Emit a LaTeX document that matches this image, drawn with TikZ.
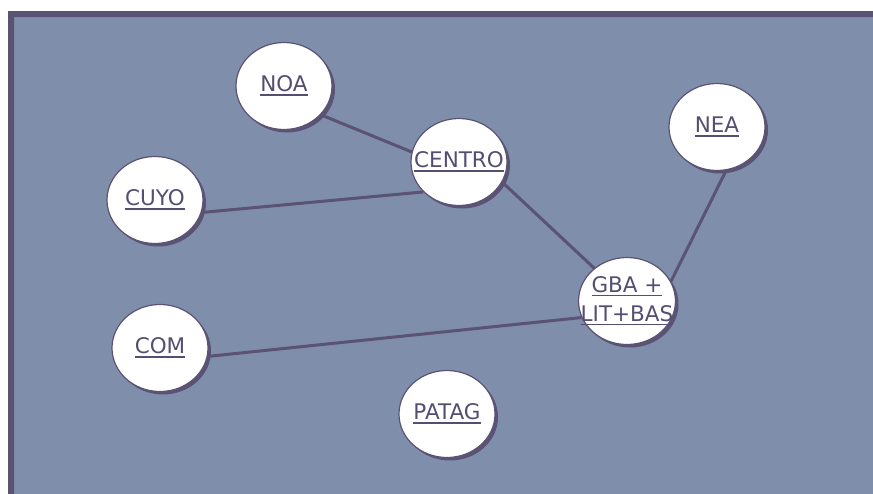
\documentclass[tikz,border=0pt]{standalone}
\usepackage{fontspec}
\setmainfont{DejaVu Sans}
\usepackage{xcolor}
\definecolor{slate}{HTML}{7F8EAB}
\definecolor{plum}{HTML}{5A5374}
\definecolor{plumtext}{HTML}{564D72}
\usetikzlibrary{
  shapes.geometric,
  shadows,
  backgrounds
}
\newcommand{\undl}[1]{\setbox0\hbox{#1}\rlap{\rule[-4pt]{\wd0}{1.8pt}}\box0}

\begin{document}
\begin{tikzpicture}[
  x=1pt, y=-1pt,
  region/.style={
    ellipse,
    draw=plum,
    line width=1.2pt,
    fill=white,
    minimum width=96pt,
    minimum height=87pt,
    inner sep=-12pt,
    text=plumtext,
    align=center,
    font=\fontsize{21.5}{29}\selectfont,
    drop shadow={shadow xshift=3pt, shadow yshift=-3pt, fill=plum, opacity=1}
  },
  link/.style={
    draw=plum,
    line width=3pt
  }
]
\useasboundingbox (0,0) rectangle (873,493);

% Frame
\begin{scope}[on background layer]
  \fill[slate] (8,11) rectangle (880,500);
  \fill[plum] (8,500) -- (8,11) -- (880,11) -- (880,17) -- (14,17) -- (14,500) -- cycle;
\end{scope}

% Regions
\node[region] (noa)    at (284,86)  {\undl{NOA}};
\node[region] (centro) at (459,162) {\undl{CENTRO}};
\node[region] (nea)    at (717,127) {\undl{NEA}};
\node[region] (cuyo)   at (155,200) {\undl{CUYO}};
\node[region] (gba)    at (627,301) {\undl{GBA +}\\\undl{LIT+BAS}};
\node[region] (com)    at (160,348) {\undl{COM}};
\node[region] (patag)  at (447,414) {\undl{PATAG}};

% Links
\begin{scope}[on background layer]
  \draw[link] (noa.-38)  -- (centro.168);
  \draw[link] (cuyo.-15) -- (centro.220);
  \draw[link] (centro.-25) -- (gba.135);
  \draw[link] (nea.-78)  -- (gba.24);
  \draw[link] (com.-10)  -- (gba.200);
\end{scope}

\end{tikzpicture}
\end{document}
